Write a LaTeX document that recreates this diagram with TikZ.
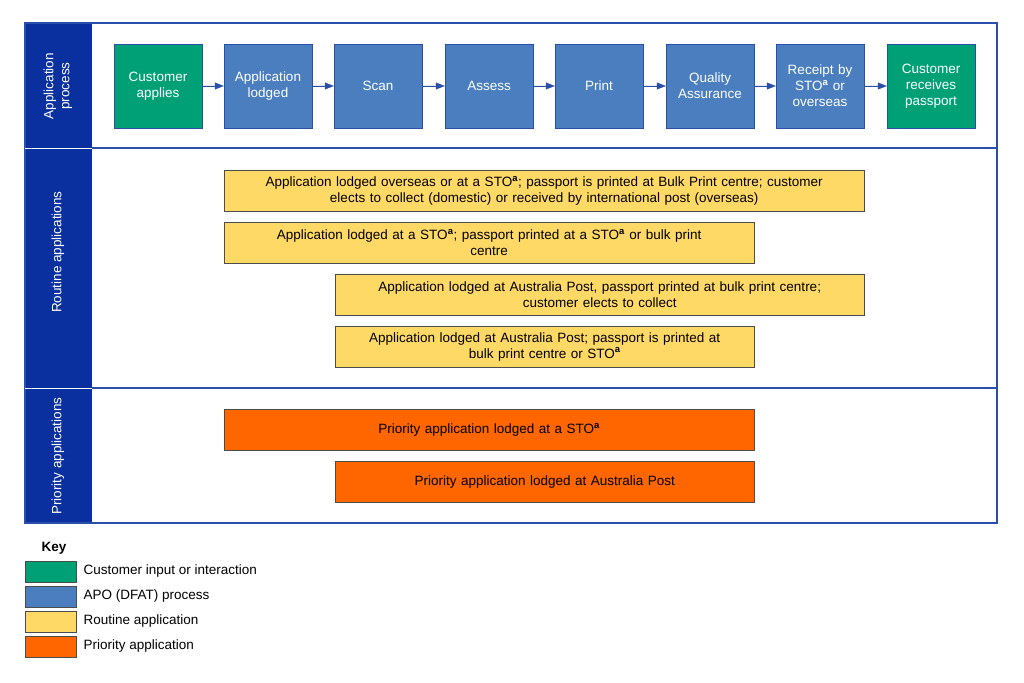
\documentclass[tikz,border=0pt]{standalone}
\usepackage{fontspec}
\setmainfont{Liberation Sans}
\usetikzlibrary{arrows.meta}
\definecolor{band}{HTML}{0A2F9E}
\definecolor{edge}{HTML}{2A4FA8}
\definecolor{custgreen}{HTML}{00A077}
\definecolor{apoblue}{HTML}{4A7EBF}
\definecolor{routine}{HTML}{FFD966}
\definecolor{priority}{HTML}{FF6600}
\newcommand{\sto}{STO\textsuperscript{\textbf{a}}}
\begin{document}
\begin{tikzpicture}[x=1pt,y=-1pt,font=\fontsize{13.5}{16}\selectfont,
  apo/.style={draw=edge, fill=apoblue, text=white, minimum width=88pt, minimum height=84pt, align=center, text width=84pt, inner sep=0pt},
  cust/.style={apo, fill=custgreen},
  bar/.style={draw=black!70, anchor=north west, align=center, inner sep=0pt, minimum height=41pt},
  flow/.style={-{Triangle[length=9pt,width=7pt]}, draw=edge, fill=edge},
  keybox/.style={draw=black!70, minimum width=51pt, minimum height=21pt, anchor=north west, inner sep=0pt},
  keytext/.style={anchor=west}]
\useasboundingbox (0,0) rectangle (1024,682);
% Rahmen und Bänder
\fill[band] (25,23) rectangle (92,523);
\draw[edge, line width=1.5pt] (25,23) rectangle (997,523);
\draw[edge, line width=1.5pt] (92,148) -- (997,148);
\draw[edge, line width=1.5pt] (92,388) -- (997,388);
\draw[white, line width=0.5pt] (25,148) -- (92,148) (25,388) -- (92,388);
\node[rotate=90, text=white, align=center] (lproc) at (58,86) {Application\\process};
\node[rotate=90, text=white] (lrout) at (58,252) {Routine applications};
\node[rotate=90, text=white] (lprio) at (58,456) {Priority applications};

% Prozessschritte
\foreach \x/\name/\txt/\sty in {158/s1/{Customer\\applies}/cust, 268/s2/{Application\\lodged}/apo, 378/s3/Scan/apo, 489/s4/Assess/apo, 599/s5/Print/apo, 710/s6/{Quality\\Assurance}/apo, 820/s7/{Receipt by\\\sto{} or\\overseas}/apo, 931/s8/{Customer\\receives\\passport}/cust} {
  \node[\sty] (\name) at (\x,86) {\txt};
}
\foreach \a/\b in {s1/s2,s2/s3,s3/s4,s4/s5,s5/s6,s6/s7,s7/s8} {
  \draw[flow] (\a) -- (\b);
}

% Routine
\node[bar, fill=routine, minimum width=640pt, text width=636pt] (r1) at (224,170) {Application lodged overseas or at a \sto; passport is printed at Bulk Print centre; customer\\elects to collect (domestic) or received by international post (overseas)};
\node[bar, fill=routine, minimum width=530pt, text width=526pt] (r2) at (224,222) {Application lodged at a \sto; passport printed at a \sto{} or bulk print\\centre};
\node[bar, fill=routine, minimum width=529pt, text width=525pt] (r3) at (335,274) {Application lodged at Australia Post, passport printed at bulk print centre;\\customer elects to collect};
\node[bar, fill=routine, minimum width=419pt, text width=415pt] (r4) at (335,326) {Application lodged at Australia Post; passport is printed at\\bulk print centre or \sto};

% Priority
\node[bar, fill=priority, minimum width=530pt, text width=526pt] (p1) at (224,409) {Priority application lodged at a \sto};
\node[bar, fill=priority, minimum width=419pt, text width=415pt] (p2) at (335,461) {Priority application lodged at Australia Post};

% Legende
\node[font=\fontsize{13.5}{16}\selectfont\bfseries] (key) at (54,548) {Key};
\foreach \y/\col/\txt [count=\i] in {561/custgreen/Customer input or interaction, 586/apoblue/APO (DFAT) process, 611/routine/Routine application, 636/priority/Priority application} {
  \node[keybox, fill=\col] (k\i) at (25,\y) {};
  \node[keytext] (kt\i) at (80,\y+10.5) {\txt};
}
\end{tikzpicture}
\end{document}
